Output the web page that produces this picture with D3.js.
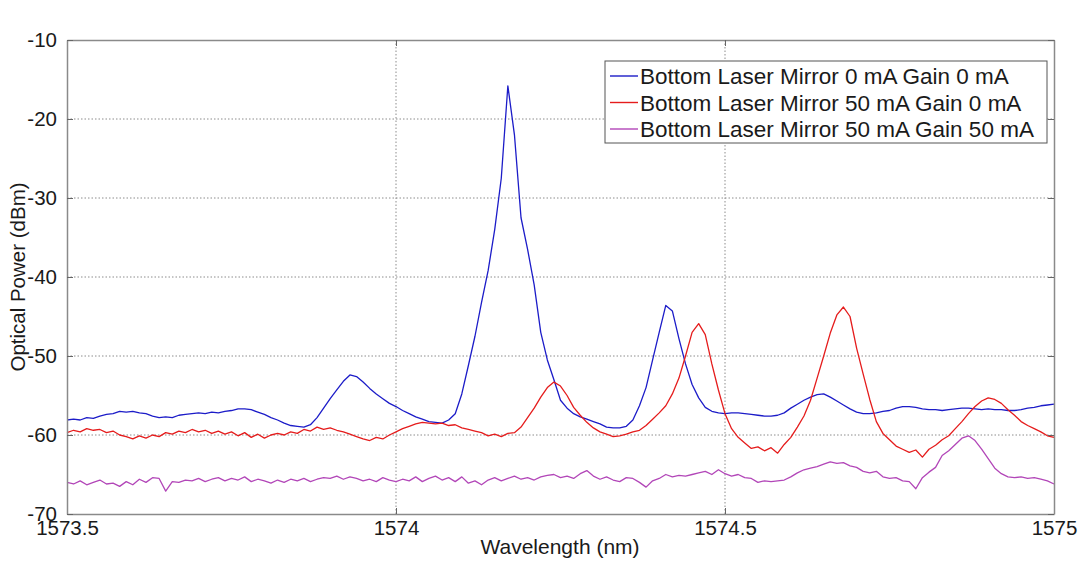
<!DOCTYPE html>
<html>
<head>
<meta charset="utf-8">
<script src="https://cdn.jsdelivr.net/npm/d3@7"></script>
<style>
html,body{margin:0;padding:0;background:#fff;}
svg{display:block;}
text{font-family:"Liberation Sans",Arial,sans-serif;fill:#1a1a1a;}
</style>
</head>
<body>
<svg id="chart" width="1086" height="561"></svg>
<script>
const wavelengths = [
1573.50,1573.51,1573.52,1573.53,1573.54,1573.55,1573.56,1573.57,1573.58,1573.59,
1573.60,1573.61,1573.62,1573.63,1573.64,1573.65,1573.66,1573.67,1573.68,1573.69,
1573.70,1573.71,1573.72,1573.73,1573.74,1573.75,1573.76,1573.77,1573.78,1573.79,
1573.80,1573.81,1573.82,1573.83,1573.84,1573.85,1573.86,1573.87,1573.88,1573.89,
1573.90,1573.91,1573.92,1573.93,1573.94,1573.95,1573.96,1573.97,1573.98,1573.99,
1574.00,1574.01,1574.02,1574.03,1574.04,1574.05,1574.06,1574.07,1574.08,1574.09,
1574.10,1574.11,1574.12,1574.13,1574.14,1574.15,1574.16,1574.17,1574.18,1574.19,
1574.20,1574.21,1574.22,1574.23,1574.24,1574.25,1574.26,1574.27,1574.28,1574.29,
1574.30,1574.31,1574.32,1574.33,1574.34,1574.35,1574.36,1574.37,1574.38,1574.39,
1574.40,1574.41,1574.42,1574.43,1574.44,1574.45,1574.46,1574.47,1574.48,1574.49,
1574.50,1574.51,1574.52,1574.53,1574.54,1574.55,1574.56,1574.57,1574.58,1574.59,
1574.60,1574.61,1574.62,1574.63,1574.64,1574.65,1574.66,1574.67,1574.68,1574.69,
1574.70,1574.71,1574.72,1574.73,1574.74,1574.75,1574.76,1574.77,1574.78,1574.79,
1574.80,1574.81,1574.82,1574.83,1574.84,1574.85,1574.86,1574.87,1574.88,1574.89,
1574.90,1574.91,1574.92,1574.93,1574.94,1574.95,1574.96,1574.97,1574.98,1574.99,
1575.00];

const seriesNames = [
  "Bottom Laser Mirror 0 mA Gain 0 mA",
  "Bottom Laser Mirror 50 mA Gain 0 mA",
  "Bottom Laser Mirror 50 mA Gain 50 mA"
];
const seriesColors = ["#1c1cc8", "#e51c1c", "#b246b8"];

const mirror0Gain0 = [
-58.1,-58.0,-58.1,-57.8,-57.9,-57.6,-57.4,-57.3,-57.0,-57.1,
-57.0,-57.2,-57.3,-57.6,-57.8,-57.7,-57.8,-57.5,-57.4,-57.3,
-57.2,-57.3,-57.1,-57.2,-57.0,-56.9,-56.7,-56.7,-56.8,-57.1,
-57.4,-57.8,-58.1,-58.5,-58.8,-58.9,-59.0,-58.7,-57.8,-56.6,
-55.4,-54.3,-53.2,-52.4,-52.6,-53.3,-54.1,-54.8,-55.4,-56.0,
-56.4,-56.9,-57.3,-57.7,-58.0,-58.3,-58.4,-58.5,-58.1,-57.3,
-54.8,-51.2,-47.5,-43.2,-39.2,-34.0,-27.5,-15.8,-22.0,-32.5,
-36.5,-41.0,-47.0,-50.5,-53.0,-55.6,-56.6,-57.3,-57.7,-58.0,
-58.3,-58.6,-59.0,-59.1,-59.1,-58.9,-58.1,-56.3,-54.0,-50.5,
-47.0,-43.6,-44.3,-47.8,-51.0,-53.6,-55.3,-56.5,-57.0,-57.2,
-57.3,-57.2,-57.2,-57.3,-57.4,-57.5,-57.6,-57.6,-57.5,-57.2,
-56.6,-56.1,-55.6,-55.2,-54.9,-54.8,-55.2,-55.7,-56.2,-56.7,
-57.1,-57.3,-57.3,-57.2,-57.0,-56.9,-56.6,-56.4,-56.4,-56.5,
-56.7,-56.8,-56.8,-56.9,-56.8,-56.7,-56.6,-56.6,-56.7,-56.8,
-56.7,-56.8,-56.8,-56.9,-56.9,-56.8,-56.6,-56.5,-56.3,-56.2,
-56.1];

const mirror50Gain0 = [
-59.7,-59.4,-59.6,-59.2,-59.4,-59.3,-59.7,-59.5,-60.0,-60.2,
-60.5,-60.1,-60.4,-60.0,-60.2,-59.7,-59.9,-59.5,-59.7,-59.3,
-59.6,-59.4,-59.8,-59.5,-59.9,-59.6,-60.1,-59.7,-60.3,-59.9,
-60.4,-60.0,-59.8,-60.0,-59.6,-59.8,-59.3,-59.5,-59.0,-59.3,
-59.1,-59.4,-59.6,-59.9,-60.2,-60.5,-60.7,-60.3,-60.5,-60.0,
-59.6,-59.2,-58.9,-58.6,-58.4,-58.5,-58.6,-58.5,-58.8,-58.7,
-59.1,-59.3,-59.5,-59.7,-60.1,-59.9,-60.2,-59.8,-59.7,-59.0,
-57.8,-56.6,-55.2,-54.0,-53.3,-53.8,-55.0,-56.5,-57.5,-58.4,
-59.1,-59.6,-59.9,-60.2,-60.1,-59.9,-59.6,-59.4,-58.8,-58.0,
-57.2,-56.3,-54.8,-52.8,-50.0,-47.0,-45.9,-47.3,-51.0,-54.3,
-57.3,-59.2,-60.3,-61.0,-61.7,-61.5,-62.0,-61.6,-62.3,-61.2,
-60.3,-59.0,-57.6,-55.6,-52.8,-50.0,-47.1,-44.8,-43.8,-45.0,
-49.0,-52.3,-55.5,-58.3,-59.8,-60.6,-61.4,-61.8,-62.2,-61.9,
-62.8,-61.8,-61.3,-60.6,-60.1,-59.2,-58.3,-57.3,-56.4,-55.7,
-55.3,-55.5,-56.0,-56.8,-57.5,-58.3,-58.8,-59.2,-59.6,-60.1,
-60.3];

const mirror50Gain50 = [
-66.0,-66.2,-65.8,-66.3,-66.0,-65.7,-66.2,-66.1,-66.5,-65.9,
-66.3,-65.6,-66.0,-65.4,-65.5,-67.1,-65.9,-66.0,-65.7,-65.8,
-65.5,-65.9,-65.6,-65.4,-65.8,-65.5,-65.7,-65.3,-65.9,-65.6,
-65.8,-66.1,-65.7,-66.0,-65.6,-65.8,-65.5,-65.9,-65.6,-65.4,
-65.5,-65.2,-65.6,-65.3,-65.5,-65.8,-65.6,-65.9,-65.4,-65.7,
-65.9,-65.6,-65.8,-65.3,-65.9,-65.5,-65.2,-65.7,-65.4,-65.9,
-65.3,-66.1,-65.8,-66.3,-65.7,-65.4,-65.8,-65.5,-65.2,-65.6,
-65.4,-65.7,-65.3,-65.1,-65.0,-65.4,-65.2,-65.5,-64.9,-64.5,
-65.2,-65.6,-65.3,-65.7,-65.9,-65.4,-65.5,-66.0,-66.6,-65.8,
-65.5,-65.0,-65.3,-65.1,-65.2,-65.0,-64.8,-64.6,-65.0,-64.4,
-64.9,-65.2,-65.0,-65.4,-65.5,-66.0,-65.8,-65.9,-65.8,-65.7,
-65.3,-64.8,-64.4,-64.2,-64.0,-63.7,-63.4,-63.6,-63.5,-63.9,
-64.1,-64.6,-64.8,-64.6,-65.3,-65.5,-65.4,-65.8,-65.9,-66.8,
-65.4,-64.7,-64.1,-62.6,-62.0,-61.2,-60.4,-60.1,-60.7,-61.8,
-63.0,-64.2,-64.9,-65.3,-65.4,-65.3,-65.5,-65.4,-65.6,-65.8,
-66.2];

const xTicks = [1573.5, 1574, 1574.5, 1575];
const xTickLabels = ["1573.5", "1574", "1574.5", "1575"];
const yTicks = [-70, -60, -50, -40, -30, -20, -10];
const yTickLabels = ["-70", "-60", "-50", "-40", "-30", "-20", "-10"];
const xTitle = "Wavelength (nm)";
const yTitle = "Optical Power (dBm)";

const seriesValues = [mirror0Gain0, mirror50Gain0, mirror50Gain50];

const svg = d3.select("#chart");
const m = {left: 67, right: 1054, top: 40, bottom: 514};

const x = d3.scaleLinear().domain([1573.5, 1575]).range([m.left, m.right]);
const y = d3.scaleLinear().domain([-70, -10]).range([m.bottom, m.top]);

// grid
const grid = svg.append("g");
grid.selectAll("line.gx").data(xTicks.slice(1, -1)).enter().append("line")
  .attr("x1", d => x(d)).attr("x2", d => x(d))
  .attr("y1", m.top).attr("y2", m.bottom)
  .attr("stroke", "#8c8c8c").attr("stroke-width", 1).attr("stroke-dasharray", "1.5,2");
grid.selectAll("line.gy").data(yTicks.slice(1, -1)).enter().append("line")
  .attr("x1", m.left).attr("x2", m.right)
  .attr("y1", d => y(d)).attr("y2", d => y(d))
  .attr("stroke", "#8c8c8c").attr("stroke-width", 1).attr("stroke-dasharray", "1.5,2");

// lines
const line = d3.line().x((d, i) => x(wavelengths[i])).y(d => y(d));
seriesValues.forEach((vals, k) => {
  svg.append("path").datum(vals)
    .attr("d", line)
    .attr("fill", "none")
    .attr("stroke", seriesColors[k])
    .attr("stroke-width", 1.3)
    .attr("stroke-linejoin", "round");
});

// axes (ticks inward)
const axisColor = "#8a8a8a";
const fmtX = (d) => xTickLabels[xTicks.indexOf(d)];
const fmtY = (d) => yTickLabels[yTicks.indexOf(d)];

const gxB = svg.append("g").attr("transform", `translate(0,${m.bottom})`)
  .call(d3.axisBottom(x).tickValues(xTicks).tickFormat(fmtX).tickSizeInner(-6).tickSizeOuter(0).tickPadding(10));
const gxT = svg.append("g").attr("transform", `translate(0,${m.top})`)
  .call(d3.axisTop(x).tickValues(xTicks).tickFormat("").tickSizeInner(-6).tickSizeOuter(0));
const gyL = svg.append("g").attr("transform", `translate(${m.left},0)`)
  .call(d3.axisLeft(y).tickValues(yTicks).tickFormat(fmtY).tickSizeInner(-6).tickSizeOuter(0).tickPadding(10));
const gyR = svg.append("g").attr("transform", `translate(${m.right},0)`)
  .call(d3.axisRight(y).tickValues(yTicks).tickFormat("").tickSizeInner(-6).tickSizeOuter(0));

[gxB, gxT, gyL, gyR].forEach(g => {
  g.select(".domain").attr("stroke", axisColor).attr("stroke-width", 1.5);
  g.selectAll(".tick line").attr("stroke", "#666").attr("stroke-width", 1);
  g.selectAll(".tick text").attr("font-size", 20.5).attr("fill", "#1a1a1a")
    .attr("font-family", "Liberation Sans, Arial, sans-serif");
});
gxB.selectAll(".tick text").attr("dy", "0.55em");

// axis titles
svg.append("text").attr("x", 560).attr("y", 554)
  .attr("text-anchor", "middle").attr("font-size", 21).text(xTitle);
svg.append("text").attr("transform", `translate(25,${(m.top + m.bottom) / 2}) rotate(-90)`)
  .attr("text-anchor", "middle").attr("font-size", 20.5).text(yTitle);

// legend
const lg = svg.append("g");
lg.append("rect").attr("x", 605).attr("y", 61).attr("width", 442).attr("height", 82)
  .attr("fill", "#fff").attr("stroke", "#555").attr("stroke-width", 1);
seriesNames.forEach((name, k) => {
  const cy = 76 + k * 26.5;
  lg.append("line").attr("x1", 610).attr("x2", 638).attr("y1", cy).attr("y2", cy)
    .attr("stroke", seriesColors[k]).attr("stroke-width", 1.4);
  lg.append("text").attr("x", 640).attr("y", cy).attr("dy", "0.36em")
    .attr("font-size", 22.5).text(name);
});
</script>
</body>
</html>
